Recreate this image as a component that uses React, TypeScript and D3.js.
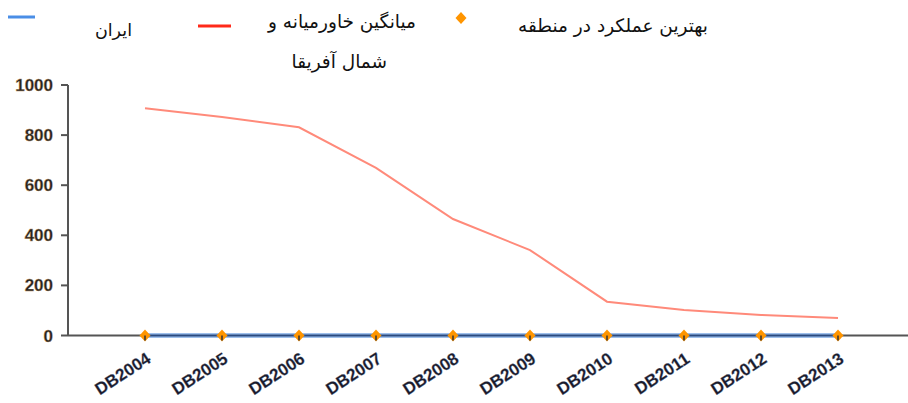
import React from "react";
import * as d3 from "d3";

const categories = ["DB2004", "DB2005", "DB2006", "DB2007", "DB2008", "DB2009", "DB2010", "DB2011", "DB2012", "DB2013"];
const iranValues = [0, 0, 0, 0, 0, 0, 0, 0, 0, 0];
const menaValues = [907, 872, 831, 669, 465, 341, 135, 102, 82, 70];
const bestValues = [0, 0, 0, 0, 0, 0, 0, 0, 0, 0];
const yTicks = [0, 200, 400, 600, 800, 1000];
const legendLabels = ["ایران", "میانگین خاورمیانه و", "شمال آفریقا", "بهترین عملکرد در منطقه"];

const W = 908;
const H = 403;

export default function App() {
  const x = d3.scalePoint<string>().domain(categories).range([68, 915]).padding(1);
  const y = d3.scaleLinear().domain([0, 1000]).range([335.5, 85]);
  const line = d3.line<number>().x((_, i) => x(categories[i]) as number).y((d) => y(d));
  const diamond = "M0,-6L5.5,0L0,6L-5.5,0Z";
  const fa = "'DejaVu Sans', 'Noto Sans', sans-serif";
  const num = "'Liberation Sans', Arial, sans-serif";

  return (
    <svg width={W} height={H} style={{ position: "absolute", left: 0, top: 0, background: "#fff" }}>
      <defs>
        <filter id="blur" x="-50%" y="-50%" width="200%" height="200%">
          <feGaussianBlur stdDeviation="0.5" />
        </filter>
      </defs>
      {/* Legend */}
      <line x1={8} x2={35} y1={17} y2={17} stroke="#4a8ee6" strokeWidth={3} />
      <text x={132} y={36} textAnchor="end" fontFamily={fa} fontSize={17.5} fill="#111">{legendLabels[0]}</text>
      <line x1={198} x2={231} y1={26} y2={26} stroke="#ff2a1a" strokeWidth={3} />
      <text x={416} y={28} textAnchor="end" fontFamily={fa} fontSize={18.5} fill="#111">{legendLabels[1]}</text>
      <text x={387} y={68} textAnchor="end" fontFamily={fa} fontSize={18.5} fill="#111">{legendLabels[2]}</text>
      <path d={diamond} transform="translate(461,18)" fill="#ff9500" filter="url(#blur)" />
      <text x={708} y={32} textAnchor="end" fontFamily={fa} fontSize={18.5} fill="#111">{legendLabels[3]}</text>

      {/* Y axis */}
      <line x1={68} x2={68} y1={y(1000)} y2={y(0)} stroke="#555" strokeWidth={2} />
      {yTicks.map((t) => (
        <g key={t}>
          <line x1={61} x2={68} y1={y(t)} y2={y(t)} stroke="#555" strokeWidth={2} />
          <text x={53} y={y(t) + 6} textAnchor="end" fontFamily={num} fontWeight="bold" fontSize={17} fill="#222" stroke="#b89060" strokeWidth={0.4}>
            {t}
          </text>
        </g>
      ))}

      {/* X axis */}
      <line x1={68} x2={908} y1={y(0)} y2={y(0)} stroke="#555" strokeWidth={2} />

      {/* MENA line */}
      <path d={line(menaValues) || ""} fill="none" stroke="#ff8a7a" strokeWidth={2} />

      {/* Iran line */}
      <path d={line(iranValues) || ""} fill="none" stroke="#9fc0ec" strokeWidth={5} />
      <path d={line(iranValues) || ""} fill="none" stroke="#2a4a80" strokeWidth={2} />

      {/* Best performance markers */}
      {bestValues.map((v, i) => (
        <g key={categories[i]}>
          <path d={diamond} transform={`translate(${x(categories[i])},${y(v)})`} fill="#ff9500" filter="url(#blur)" />
          <line x1={x(categories[i])} x2={x(categories[i])} y1={y(0)} y2={y(0) + 5} stroke="#333" strokeWidth={1.5} />
        </g>
      ))}

      {/* X tick labels */}
      {categories.map((c) => (
        <text
          key={c}
          transform={`translate(${(x(c) as number) + 7},${y(0) + 26}) rotate(-33)`}
          textAnchor="end"
          fontFamily={num}
          fontWeight="bold"
          fontSize={17}
          fill="#1a1a2a"
          stroke="#6a7a9a"
          strokeWidth={0.3}
        >
          {c}
        </text>
      ))}
    </svg>
  );
}
